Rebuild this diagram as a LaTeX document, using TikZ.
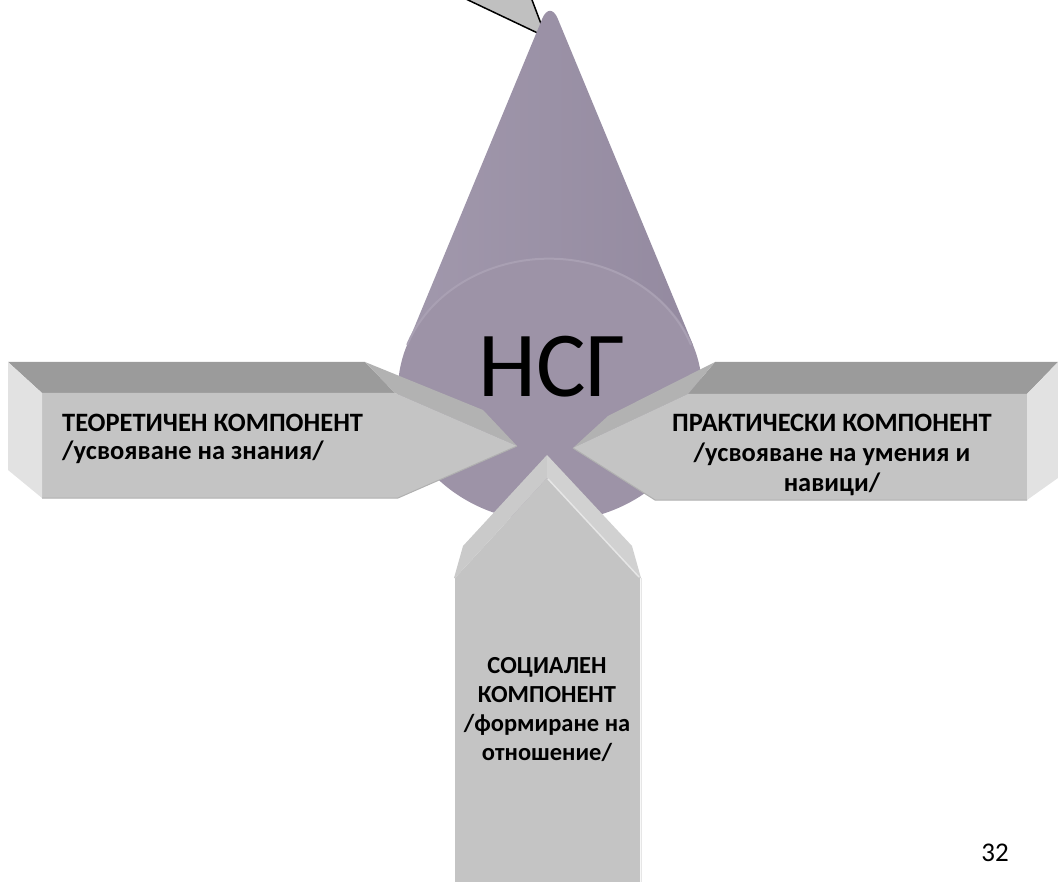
\documentclass[tikz,border=0pt]{standalone}
\usepackage{fontspec}
\setmainfont{Carlito}
\definecolor{conel}{HTML}{A198AC}
\definecolor{conem}{HTML}{7E7389}
\definecolor{coner}{HTML}{948AA0}
\definecolor{disc}{HTML}{9D93A7}
\definecolor{rimc}{HTML}{A9A0B3}
\definecolor{calloutc}{HTML}{C0C0C0}
\definecolor{topc}{HTML}{9B9B9B}
\definecolor{facetc}{HTML}{B2B2B2}
\definecolor{frontc}{HTML}{C4C4C4}
\definecolor{endc}{HTML}{E2E2E2}
\definecolor{edgec}{HTML}{B0B0B0}
\definecolor{bandl}{HTML}{CACACA}
\definecolor{bandr}{HTML}{D1D1D1}
\definecolor{hilite}{HTML}{E6E6E6}
\begin{document}
\begin{tikzpicture}[x=1pt,y=-1pt,
  lbl/.style={font=\bfseries\fontsize{26.5}{30}\selectfont, inner sep=0pt},
  lblsmall/.style={font=\bfseries\fontsize{24.5}{29}\selectfont, inner sep=0pt},
  topface/.style={fill=topc},
  facet/.style={fill=facetc},
  frontface/.style={fill=frontc},
  endface/.style={fill=endc},
  calloutshape/.style={fill=calloutc, draw=black, line width=1.5pt, line join=round}]
\useasboundingbox (0,0) rectangle (1058,882);
\clip (0,0) rectangle (1058,882);
% callout tail
\draw[calloutshape] (459.6,-4) -- (546,37) -- (530.5,-4) -- cycle;
% cone
\shade[left color=conel, middle color=conem, right color=coner]
  (407,345) [rounded corners=20pt] -- (550,0) [sharp corners] -- (693,345) -- (550,400) -- cycle;
% disc (cone base)
\fill[disc] (550,390) ellipse [x radius=152pt, y radius=132pt];
\draw[rimc, line width=2pt] (407.2,344.9) arc[start angle=160, end angle=20, x radius=151pt, y radius=131pt];
\node[font=\fontsize{93}{100}\selectfont, inner sep=0pt, anchor=base] (nsg) at (552,397) {НСГ};
% left arrow
\fill[topface] (8,362) -- (365,362) -- (395,393) -- (42,393) -- cycle;
\fill[facet] (365,362) -- (483,410) -- (517,446) -- (395,393) -- cycle;
\fill[frontface] (42,393) -- (395,393) -- (517,446) -- (398,498) -- (42,498) -- cycle;
\fill[endface] (8,362) -- (42,393) -- (42,498) -- (8,470) -- cycle;
\draw[edgec, line width=1pt] (42,498) -- (398,498) -- (517,446);
% right arrow
\fill[topface] (715,362) -- (1058,362) -- (1027,394) -- (688,394) -- cycle;
\fill[facet] (715,362) -- (688,394) -- (573,448) -- (608,416) -- cycle;
\fill[frontface] (688,394) -- (1027,394) -- (1027,500) -- (655,500) -- (573,448) -- cycle;
\fill[endface] (1058,362) -- (1027,394) -- (1027,500) -- (1058,478) -- cycle;
\draw[edgec, line width=1pt] (573,448) -- (655,500) -- (1027,500);
% bottom arrow
\fill[frontface] (547,478) -- (640,578) -- (640,890) -- (455,890) -- (455,578) -- cycle;
\fill[bandl] (547,455) -- (463,546) -- (454,578) -- (455,578) -- (547,478) -- cycle;
\fill[bandr] (547,455) -- (632,546) -- (641,578) -- (640,578) -- (547,478) -- cycle;
\draw[hilite, line width=1.5pt] (548,479) -- (639,577);
\draw[hilite, line width=1pt] (641,578) -- (641,890);
% labels
\node[lbl, anchor=base west] (t1) at (62,432) {ТЕОРЕТИЧЕН КОМПОНЕНТ};
\node[lbl, anchor=base west] (t2) at (62,460) {/усвояване на знания/};
\node[lbl, anchor=base] (p1) at (832,432) {ПРАКТИЧЕСКИ КОМПОНЕНТ};
\node[lbl, anchor=base] (p2) at (832,462) {/усвояване на умения и};
\node[lbl, anchor=base] (p3) at (832,492) {навици/};
\node[lblsmall, anchor=base] (s1) at (547,673) {СОЦИАЛЕН};
\node[lblsmall, anchor=base] (s2) at (547,702) {КОМПОНЕНТ};
\node[lblsmall, anchor=base] (s3) at (547,731) {/формиране на};
\node[lblsmall, anchor=base] (s4) at (547,760) {отношение/};
\node[font=\fontsize{27}{32}\selectfont, inner sep=0pt, anchor=base] (pg) at (995,861) {32};
\end{tikzpicture}
\end{document}
